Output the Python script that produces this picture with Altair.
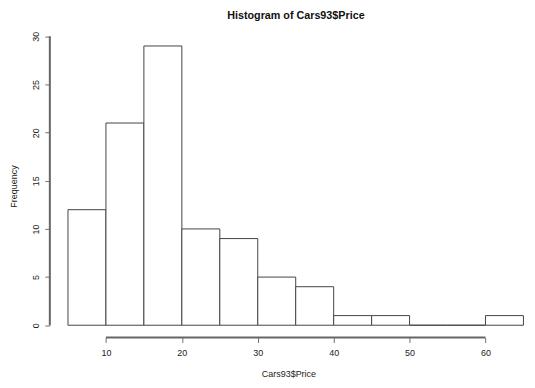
import altair as alt
import pandas as pd

bin_start = [5, 10, 15, 20, 25, 30, 35, 40, 45, 50, 55, 60]
bin_end = [10, 15, 20, 25, 30, 35, 40, 45, 50, 55, 60, 65]
counts = [12, 21, 29, 10, 9, 5, 4, 1, 1, 0, 0, 1]
x_ticks = [10, 20, 30, 40, 50, 60]
y_ticks = [0, 5, 10, 15, 20, 25, 30]
main_title = "Histogram of Cars93$Price"
x_label = "Cars93$Price"
y_label = "Frequency"

x_dom = [2.61, 65.47]
y_dom = [-1.27, 30.18]

FONT = "Liberation Sans"
TEXT = "#222222"
AXIS = "#6f6f6f"
AXIS_LINE = "#666666"

bars_df = pd.DataFrame({"start": bin_start, "end": bin_end, "count": counts})
xs = alt.Scale(domain=x_dom, nice=False, zero=False)
ys = alt.Scale(domain=y_dom, nice=False, zero=False)

x_axis = alt.Axis(values=x_ticks, title=x_label, domain=False, grid=False,
                  tickSize=5, tickColor=AXIS, labelPadding=6.5, titlePadding=11.5,
                  format="d", labelFont=FONT, labelFontSize=9, labelColor=TEXT,
                  titleFont=FONT, titleFontSize=9, titleFontWeight="normal",
                  titleColor=TEXT, labelFlush=False)
y_axis = alt.Axis(values=y_ticks, title=y_label, domain=False, grid=False,
                  tickSize=5, tickColor=AXIS, labelPadding=4.5, titlePadding=13,
                  labelAngle=270, format="d", labelFont=FONT, labelFontSize=9,
                  labelColor=TEXT, titleFont=FONT, titleFontSize=9,
                  titleFontWeight="normal", titleColor=TEXT, labelFlush=False)

bars = alt.Chart(bars_df).mark_rect(fill="white", stroke="#444444", strokeWidth=1).encode(
    x=alt.X("start:Q", scale=xs, axis=x_axis),
    x2="end:Q",
    y=alt.Y("count:Q", scale=ys, axis=y_axis),
    y2=alt.datum(0),
)

xline = alt.Chart(pd.DataFrame({"a": [0]})).mark_rule(strokeWidth=2).encode(
    x=alt.datum(x_ticks[0], scale=xs), x2=alt.datum(x_ticks[-1]),
    y=alt.datum(y_dom[0], scale=ys), color=alt.value(AXIS_LINE)
)
yline = alt.Chart(pd.DataFrame({"a": [0]})).mark_rule(strokeWidth=2).encode(
    x=alt.datum(x_dom[0], scale=xs), y=alt.datum(y_ticks[0], scale=ys),
    y2=alt.datum(y_ticks[-1]), color=alt.value(AXIS_LINE)
)

chart = alt.layer(bars, xline, yline).properties(
    width=479,
    height=304,
    title=alt.TitleParams(text=main_title, font=FONT, fontSize=10.8, fontWeight="bold",
                          color="#111111", anchor="middle", dx=7.5, offset=11),
    autosize=alt.AutoSizeParams(type="none"),
    padding={"left": 42, "top": 26, "right": 0, "bottom": 46},
    background="white",
).configure_view(stroke=None)

chart.save("out.html", embed_options={"renderer": "svg", "actions": False})
